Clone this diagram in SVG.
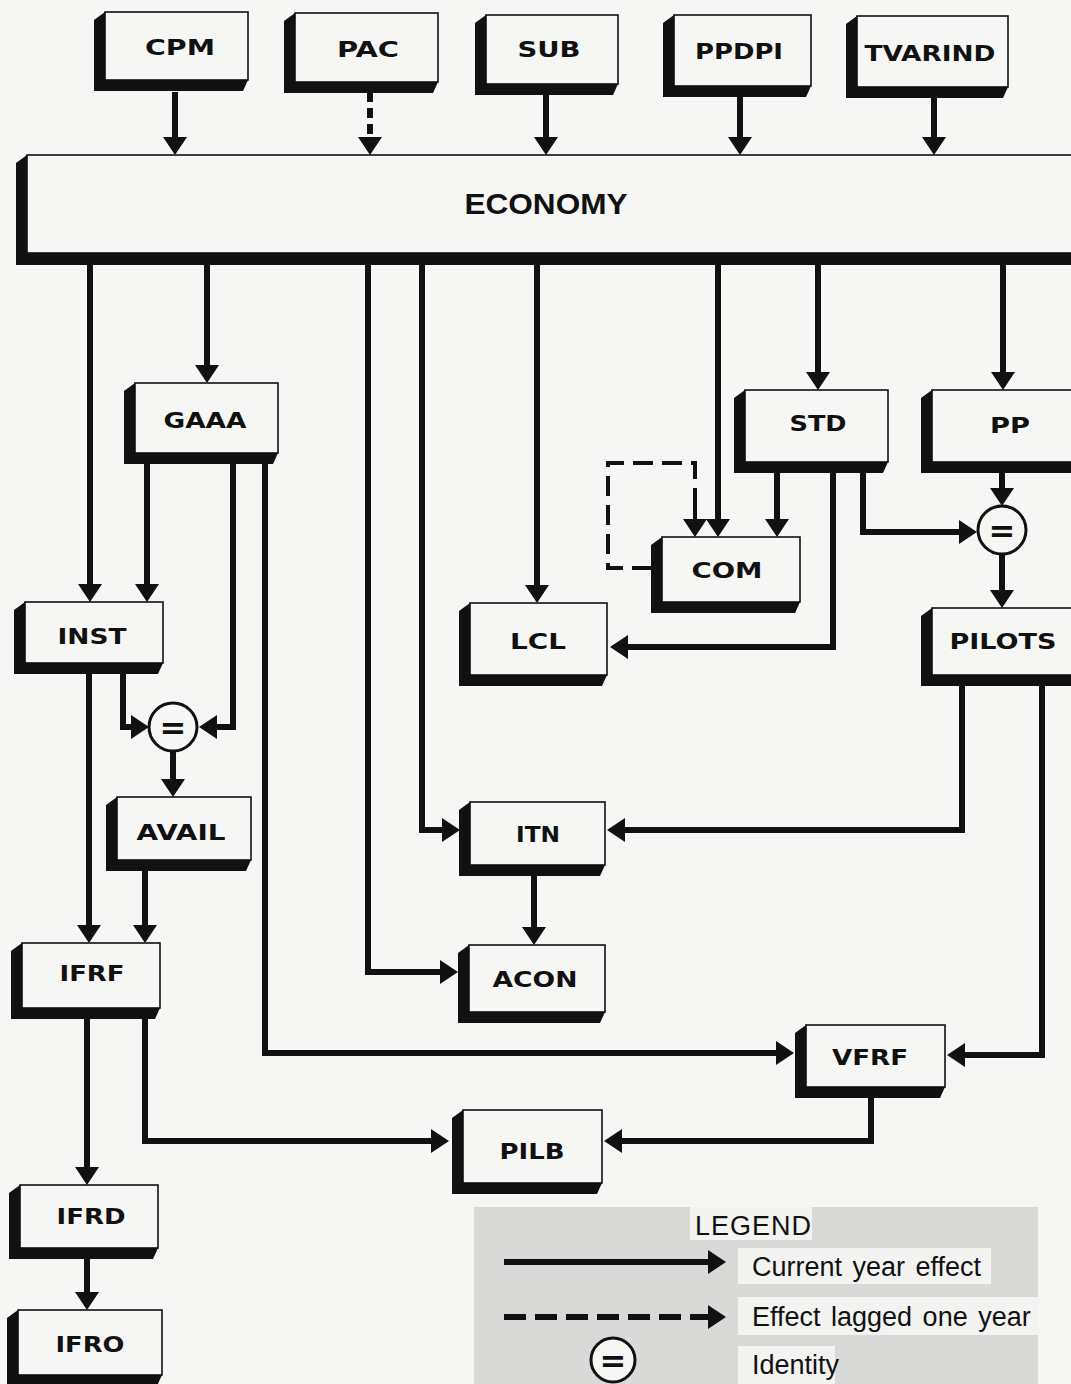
<svg xmlns="http://www.w3.org/2000/svg" width="1071" height="1384" viewBox="0 0 1071 1384">
<defs>
<marker id="ah" markerUnits="userSpaceOnUse" markerWidth="18" markerHeight="24" viewBox="0 0 18 24" refX="3" refY="12" orient="auto">
<path d="M0,0 L18,12 L0,24 Z" fill="#111"/>
</marker>
<style>
.ext{fill:#111;}
.face{fill:#f6f6f4;stroke:#111;stroke-width:1.6;}
.lbl{font-family:"DejaVu Sans","Liberation Sans",sans-serif;font-weight:bold;font-size:21px;fill:#111;text-anchor:middle;}
.big{font-family:"Liberation Sans",Arial,sans-serif;font-weight:bold;font-size:30px;fill:#111;text-anchor:middle;}
.c{fill:none;stroke:#111;stroke-width:6;marker-end:url(#ah);}
.d{stroke-dasharray:10 6;}
.loop{fill:none;stroke:#111;stroke-width:4;stroke-dasharray:20 9;}
.circ{fill:#f6f6f4;stroke:#111;stroke-width:3;}
.eq{font-family:"DejaVu Sans",sans-serif;font-weight:bold;font-size:32px;fill:#111;text-anchor:middle;}
.leg{font-family:"Liberation Sans",Arial,sans-serif;font-size:27px;fill:#111;word-spacing:3px;}
</style>
</defs>
<rect x="0" y="0" width="1071" height="1384" fill="#f6f6f4"/>

<g id="connectors">
<path class="c" d="M175,92 V140"/>
<path class="c d" d="M370,92 V140"/>
<path class="c" d="M546,95 V140"/>
<path class="c" d="M740,97 V140"/>
<path class="c" d="M934,97 V140"/>
<path class="c" d="M90,262 V587"/>
<path class="c" d="M207,262 V368"/>
<path class="c" d="M368,262 V972 H443"/>
<path class="c" d="M422,262 V830 H445"/>
<path class="c" d="M537,262 V588"/>
<path class="c" d="M718,262 V522"/>
<path class="c" d="M818,262 V375"/>
<path class="c" d="M1003,262 V375"/>
<path class="c" d="M147,462 V587"/>
<path class="c" d="M233,462 V727 H214"/>
<path class="c" d="M265,462 V1053 H779"/>
<path class="c" d="M89,672 V928"/>
<path class="c" d="M123,672 V727 H134"/>
<path class="c" d="M173,752 V782"/>
<path class="c" d="M145,868 V928"/>
<path class="c" d="M87,1016 V1170"/>
<path class="c" d="M145,1016 V1141 H434"/>
<path class="c" d="M87,1256 V1295"/>
<path class="c" d="M777,470 V522"/>
<path class="c" d="M833,470 V647 H625"/>
<path class="c" d="M863,470 V532 H962"/>
<path class="c" d="M1002,470 V491"/>
<path class="c" d="M1002,555 V593"/>
<path class="loop" d="M652,568 H608 V463 H695 V500"/>
<path fill="none" stroke="#111" stroke-width="4" marker-end="url(#ah)" d="M695,495 V522"/>
<path class="c" d="M962,683 V830 H622"/>
<path class="c" d="M1042,683 V1055 H962"/>
<path class="c" d="M534,873 V930"/>
<path class="c" d="M871,1095 V1141 H619"/>
</g>

<g id="CPM"><polygon class="ext" points="105,12 94,20 94,91 243,91 248,80"/><rect class="face" x="105" y="12" width="143" height="68"/><text class="lbl" x="180" y="55" textLength="70" lengthAdjust="spacingAndGlyphs">CPM</text></g>
<g id="PAC"><polygon class="ext" points="295,13 284,21 284,93 433,93 438,82"/><rect class="face" x="295" y="13" width="143" height="69"/><text class="lbl" x="368" y="57" textLength="62" lengthAdjust="spacingAndGlyphs">PAC</text></g>
<g id="SUB"><polygon class="ext" points="486,15 475,23 475,95 613,95 618,84"/><rect class="face" x="486" y="15" width="132" height="69"/><text class="lbl" x="549" y="57" textLength="63" lengthAdjust="spacingAndGlyphs">SUB</text></g>
<g id="PPDPI"><polygon class="ext" points="674,15 663,23 663,97 806,97 811,86"/><rect class="face" x="674" y="15" width="137" height="71"/><text class="lbl" x="739" y="59" textLength="88" lengthAdjust="spacingAndGlyphs">PPDPI</text></g>
<g id="TVARIND"><polygon class="ext" points="857,16 846,24 846,98 1003,98 1008,87"/><rect class="face" x="857" y="16" width="151" height="71"/><text class="lbl" x="930" y="61" textLength="131" lengthAdjust="spacingAndGlyphs">TVARIND</text></g>
<g id="ECONOMY"><polygon class="ext" points="27,155 16,163 16,265 1075,265 1075,253"/><rect class="face" x="27" y="155" width="1060" height="98"/><text class="big" x="546" y="214" textLength="163" lengthAdjust="spacingAndGlyphs">ECONOMY</text></g>
<g id="GAAA"><polygon class="ext" points="135,383 124,391 124,464 273,464 278,453"/><rect class="face" x="135" y="383" width="143" height="70"/><text class="lbl" x="205" y="428" textLength="83" lengthAdjust="spacingAndGlyphs">GAAA</text></g>
<g id="INST"><polygon class="ext" points="25,602 14,610 14,674 158,674 163,663"/><rect class="face" x="25" y="602" width="138" height="61"/><text class="lbl" x="92" y="644" textLength="69" lengthAdjust="spacingAndGlyphs">INST</text></g>
<g id="STD"><polygon class="ext" points="745,390 734,398 734,473 883,473 888,462"/><rect class="face" x="745" y="390" width="143" height="72"/><text class="lbl" x="818" y="431" textLength="57" lengthAdjust="spacingAndGlyphs">STD</text></g>
<g id="PP"><polygon class="ext" points="932,390 921,398 921,473 1075,473 1075,462"/><rect class="face" x="932" y="390" width="150" height="72"/><text class="lbl" x="1010" y="433" textLength="40" lengthAdjust="spacingAndGlyphs">PP</text></g>
<g id="COM"><polygon class="ext" points="662,537 651,545 651,613 795,613 800,602"/><rect class="face" x="662" y="537" width="138" height="65"/><text class="lbl" x="727" y="578" textLength="71" lengthAdjust="spacingAndGlyphs">COM</text></g>
<g id="LCL"><polygon class="ext" points="470,603 459,611 459,686 602,686 607,675"/><rect class="face" x="470" y="603" width="137" height="72"/><text class="lbl" x="538" y="649" textLength="56" lengthAdjust="spacingAndGlyphs">LCL</text></g>
<g id="PILOTS"><polygon class="ext" points="932,608 921,616 921,686 1075,686 1075,675"/><rect class="face" x="932" y="608" width="150" height="67"/><text class="lbl" x="1003" y="649" textLength="107" lengthAdjust="spacingAndGlyphs">PILOTS</text></g>
<g id="AVAIL"><polygon class="ext" points="117,797 106,805 106,871 246,871 251,860"/><rect class="face" x="117" y="797" width="134" height="63"/><text class="lbl" x="181" y="840" textLength="89" lengthAdjust="spacingAndGlyphs">AVAIL</text></g>
<g id="ITN"><polygon class="ext" points="470,802 459,810 459,876 600,876 605,865"/><rect class="face" x="470" y="802" width="135" height="63"/><text class="lbl" x="538" y="842" textLength="44" lengthAdjust="spacingAndGlyphs">ITN</text></g>
<g id="IFRF"><polygon class="ext" points="22,943 11,951 11,1019 155,1019 160,1008"/><rect class="face" x="22" y="943" width="138" height="65"/><text class="lbl" x="92" y="981" textLength="65" lengthAdjust="spacingAndGlyphs">IFRF</text></g>
<g id="ACON"><polygon class="ext" points="469,945 458,953 458,1023 600,1023 605,1012"/><rect class="face" x="469" y="945" width="136" height="67"/><text class="lbl" x="535" y="987" textLength="85" lengthAdjust="spacingAndGlyphs">ACON</text></g>
<g id="VFRF"><polygon class="ext" points="806,1025 795,1033 795,1098 940,1098 945,1087"/><rect class="face" x="806" y="1025" width="139" height="62"/><text class="lbl" x="870" y="1065" textLength="76" lengthAdjust="spacingAndGlyphs">VFRF</text></g>
<g id="PILB"><polygon class="ext" points="463,1110 452,1118 452,1194 597,1194 602,1183"/><rect class="face" x="463" y="1110" width="139" height="73"/><text class="lbl" x="532" y="1159" textLength="65" lengthAdjust="spacingAndGlyphs">PILB</text></g>
<g id="IFRD"><polygon class="ext" points="20,1185 9,1193 9,1259 153,1259 158,1248"/><rect class="face" x="20" y="1185" width="138" height="63"/><text class="lbl" x="91" y="1224" textLength="69" lengthAdjust="spacingAndGlyphs">IFRD</text></g>
<g id="IFRO"><polygon class="ext" points="18,1310 7,1318 7,1386 157,1386 162,1375"/><rect class="face" x="18" y="1310" width="144" height="65"/><text class="lbl" x="90" y="1352" textLength="69" lengthAdjust="spacingAndGlyphs">IFRO</text></g>

<g id="ID1"><circle class="circ" cx="173" cy="727" r="24"/><text class="eq" x="173" y="739">=</text></g>
<g id="ID2"><circle class="circ" cx="1002" cy="530" r="24"/><text class="eq" x="1002" y="542">=</text></g>

<g id="legend">
<rect x="474" y="1207" width="564" height="177" fill="#d9d9d7"/>
<rect x="690" y="1207" width="122" height="33" fill="#f3f3f1"/>
<rect x="738" y="1248" width="253" height="36" fill="#f3f3f1"/>
<rect x="738" y="1297" width="300" height="38" fill="#f3f3f1"/>
<rect x="738" y="1346" width="97" height="38" fill="#f3f3f1"/>
<text class="leg" x="695" y="1235" letter-spacing="1">LEGEND</text>
<path class="c" d="M504,1262 H711"/>
<text class="leg" x="752" y="1276">Current year effect</text>
<path class="c" d="M504,1317 H711" stroke-dasharray="22 9"/>
<text class="leg" x="752" y="1326">Effect lagged one year</text>
<circle class="circ" cx="613" cy="1360" r="22"/>
<text class="eq" x="613" y="1372">=</text>
<text class="leg" x="752" y="1374">Identity</text>
</g>
</svg>
